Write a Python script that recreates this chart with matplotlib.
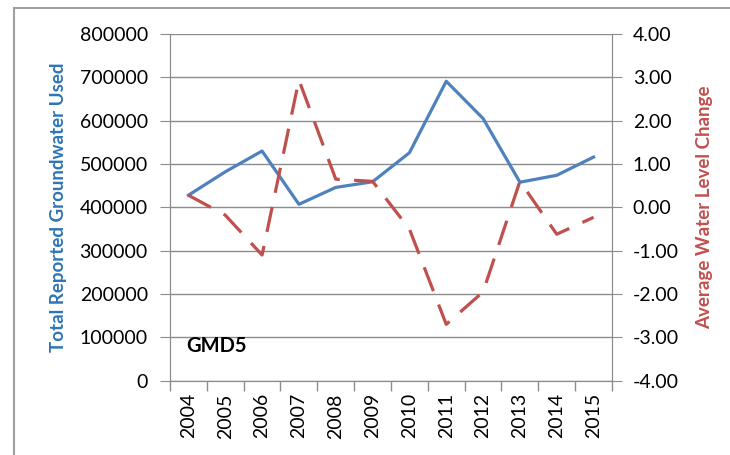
import numpy as np
import matplotlib.pyplot as plt
from matplotlib.patches import Rectangle

# data
years = ['2004', '2005', '2006', '2007', '2008', '2009', '2010', '2011', '2012', '2013', '2014', '2015']
groundwater_used = [428000, 482000, 530000, 407000, 446000, 459000, 526000, 691000, 605000, 458000, 474000, 516000]
water_level_change = [0.28, -0.18, -1.10, 2.94, 0.65, 0.60, -0.50, -2.70, -1.95, 0.60, -0.62, -0.23]

BLUE = '#4F81BD'
RED = '#C0504D'
GRID = '#8C8C8C'
plt.rcParams['font.family'] = ['Lato', 'DejaVu Sans']
plt.rcParams['axes.unicode_minus'] = False

fig = plt.figure(figsize=(7.3, 4.55), dpi=100)
ax = fig.add_axes([170/730, 1-380.7/455, 442/730, 346.7/455])
ax2 = ax.twinx()

x = np.arange(len(years))
ax.plot(x, groundwater_used, color=BLUE, lw=2.3, zorder=3)
ax2.plot(x, water_level_change, color=RED, lw=2.3, dashes=(8, 4.5), zorder=3)

ax.set_xlim(-0.5, len(years) - 0.5)
ax.set_ylim(0, 800000)
ax2.set_ylim(-4, 4)
ax.set_yticks(np.arange(0, 800001, 100000))
ax2.set_yticks(np.arange(-4, 4.01, 1))
ax2.set_yticklabels([f'{v:.2f}' for v in np.arange(-4, 4.01, 1)])

ax.set_xticks(x)
ax.set_xticklabels(years, rotation=90)
ax.set_xticks(np.arange(-0.5, len(years)), minor=True)
ax.tick_params(axis='x', which='major', length=0, pad=9, labelsize=14)
ax.tick_params(axis='x', which='minor', length=7, color=GRID, width=1)
ax.tick_params(axis='y', length=7, color=GRID, pad=9, labelsize=14)
ax2.tick_params(axis='y', length=7, color=GRID, pad=8, labelsize=14)

ax.grid(axis='y', color=GRID, lw=1)
ax.set_axisbelow(True)
for a in (ax, ax2):
    a.spines['top'].set_visible(False)
    for side in ['left', 'right', 'bottom']:
        a.spines[side].set_color(GRID)

ax.set_ylabel('Total Reported Groundwater Used', color='#2E75B6', fontsize=13.5,
              fontweight='bold', labelpad=9)
ax2.set_ylabel('Average Water Level Change', color=RED, fontsize=13.5,
               fontweight='bold', labelpad=12)

ax.text(-0.05, 81000, 'GMD5', fontsize=14.5, fontweight='bold', va='center', ha='left')

# outer chart border (picture is a crop of a larger chart)
fig.patches.append(Rectangle((14/730, -0.1), 1.2, 1 - 8/455 + 0.1, transform=fig.transFigure,
                             fill=False, edgecolor='#A0A0A0', lw=1.5))

fig.savefig('out.png', dpi=100)
